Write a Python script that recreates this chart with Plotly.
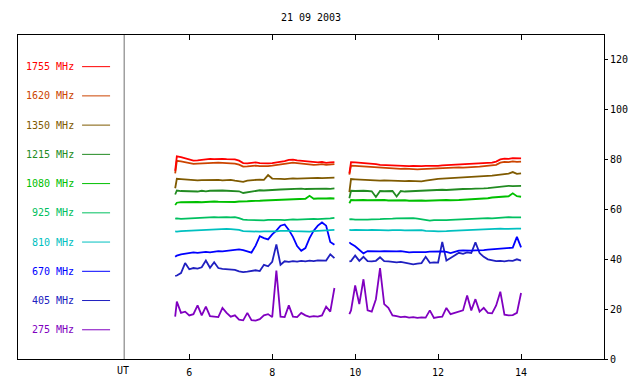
import plotly.graph_objects as go

# ---------------- data ----------------
T1 = [5.66] + [round(5.7 + 0.1 * i, 2) for i in range(39)]   # 5.7 .. 9.5 UT
T2 = [9.86] + [round(9.9 + 0.1 * i, 2) for i in range(42)]   # 9.9 .. 14.0 UT

FREQS = ["1755", "1620", "1350", "1215", "1080", "925", "810", "670", "405", "275"]
COLORS = ["#FF0000", "#CC4400", "#7F5A00", "#228B22", "#00C000",
          "#00C060", "#00C0C0", "#0000FF", "#2020C0", "#8000C0"]

F1755_A = [75.5,
           81.3, 81.0, 80.6, 80.2, 79.6, 79.7, 79.9, 80.1, 80.3, 80.2,
           80.4, 80.3, 80.2, 80.3, 80.1, 79.6, 78.6, 78.5, 78.7, 78.9,
           78.6, 78.4, 78.5, 78.6, 78.8, 79.0, 79.4, 79.9, 80.0, 79.7,
           79.5, 79.3, 79.0, 78.8, 78.9, 79.1, 78.7, 78.9, 79.0]
F1755_B = [74.5,
           79.0, 78.9, 78.8, 78.7, 78.6, 78.5, 78.2, 77.9, 77.8, 77.7,
           77.9, 77.7, 77.5, 77.6, 77.4, 77.5, 77.3, 77.4, 77.5, 77.4,
           77.6, 77.5, 77.7, 77.8, 77.9, 78.0, 78.1, 78.0, 78.2, 78.3,
           78.4, 78.5, 78.6, 78.7, 78.8, 79.2, 80.1, 80.4, 80.3, 80.6,
           80.4, 80.5]

F1620_A = [74.5,
           79.5, 79.3, 79.0, 78.6, 78.3, 78.4, 78.5, 78.6, 78.7, 78.6,
           78.8, 78.7, 78.6, 78.7, 78.4, 78.0, 77.2, 77.3, 77.5, 77.6,
           77.4, 77.3, 77.4, 77.6, 77.8, 78.0, 78.4, 78.7, 78.8, 78.6,
           78.4, 78.2, 78.0, 77.9, 78.0, 78.2, 77.9, 78.1, 78.2]
F1620_B = [74.0,
           77.6, 77.5, 77.4, 77.3, 77.2, 77.1, 76.9, 76.7, 76.6, 76.5,
           76.7, 76.5, 76.3, 76.4, 76.2, 76.3, 76.1, 76.2, 76.3, 76.2,
           76.4, 76.3, 76.5, 76.6, 76.7, 76.8, 76.9, 76.8, 77.0, 77.1,
           77.1, 77.2, 77.3, 77.4, 77.5, 77.9, 78.8, 79.1, 79.0, 79.3,
           79.1, 79.2]

F1350_A = [68.5,
           72.3, 72.2, 72.0, 71.8, 71.9, 71.7, 71.8, 71.9, 71.7, 71.8,
           71.9, 71.7, 71.8, 71.9, 71.6, 71.4, 71.1, 71.6, 71.8, 71.9,
           72.0, 71.9, 73.8, 72.4, 72.2, 72.3, 72.2, 72.4, 72.5, 72.4,
           72.5, 72.6, 72.5, 72.6, 72.7, 72.6, 72.7, 72.6, 72.8]
F1350_B = [67.0,
           72.2, 72.1, 72.0, 71.9, 71.8, 71.7, 71.8, 71.6, 71.7, 71.6,
           71.5, 71.6, 71.5, 71.4, 71.5, 71.4, 71.5, 71.3, 71.6, 71.9,
           72.1, 72.3, 72.4, 72.5, 72.6, 72.5, 72.7, 72.8, 72.7, 72.9,
           73.0, 73.1, 73.2, 73.4, 73.6, 73.8, 74.0, 74.2, 74.4, 75.0,
           74.3, 74.5]

F1215_A = [66.0,
           67.6, 67.4, 67.3, 67.5, 67.4, 67.2, 67.5, 67.3, 67.5, 67.6,
           67.4, 67.6, 67.5, 67.4, 67.6, 67.3, 66.6, 66.9, 67.3, 67.5,
           67.7, 67.6, 67.8, 67.7, 67.9, 68.0, 68.1, 68.3, 68.2, 68.3,
           68.4, 68.2, 68.3, 68.4, 68.2, 68.3, 68.4, 68.3, 68.5]
F1215_B = [64.5,
           67.5, 67.4, 67.6, 67.5, 67.4, 67.3, 65.0, 67.4, 67.3, 67.5,
           67.4, 65.2, 67.4, 67.2, 67.3, 67.4, 67.5, 67.4, 67.6, 67.7,
           67.8, 67.7, 67.9, 67.8, 68.0, 67.9, 68.1, 68.2, 68.1, 68.3,
           68.4, 68.3, 68.5, 68.6, 68.8, 69.0, 69.1, 69.3, 69.5, 69.4,
           69.6, 69.5]

F1080_A = [61.8,
           62.7, 62.9, 63.0, 62.8, 63.1, 63.0, 62.9, 63.1, 63.0, 63.2,
           63.1, 63.0, 63.2, 63.1, 63.0, 63.2, 63.1, 63.3, 63.4, 63.3,
           63.5, 63.6, 63.7, 63.8, 63.9, 64.0, 64.1, 64.0, 64.2, 64.1,
           64.2, 64.3, 65.5, 64.3, 64.4, 64.3, 64.4, 64.5, 64.4]
F1080_B = [62.5,
           63.8, 63.7, 63.9, 63.8, 63.7, 63.8, 63.6, 63.7, 63.8, 63.6,
           63.7, 63.5, 63.6, 63.7, 63.5, 63.6, 63.7, 63.6, 63.5, 63.6,
           63.7, 63.6, 63.7, 63.8, 63.7, 63.9, 63.8, 63.9, 64.0, 64.1,
           64.2, 64.1, 64.3, 64.5, 64.8, 65.0, 65.2, 65.4, 65.3, 66.5,
           65.3, 65.1]

F925_A = [56.3,
          56.4, 56.2, 56.3, 56.5, 56.4, 56.6, 56.5, 56.7, 56.8, 56.9,
          56.8, 57.0, 56.9, 56.8, 56.9, 56.5, 55.9, 55.8, 55.7, 55.8,
          55.7, 55.6, 55.8, 55.7, 55.9, 55.8, 55.7, 55.9, 56.0, 55.9,
          56.0, 56.1, 56.0, 56.2, 56.1, 56.3, 56.2, 56.4, 56.6]
F925_B = [56.0,
          56.1, 55.9, 56.0, 55.8, 55.9, 56.0, 55.9, 56.1, 56.2, 56.1,
          56.3, 56.4, 56.5, 56.3, 56.4, 56.5, 56.3, 56.0, 55.6, 55.5,
          55.7, 55.6, 55.8, 55.7, 55.8, 55.9, 55.8, 56.0, 56.1, 56.2,
          56.3, 56.2, 56.4, 56.5, 56.4, 56.6, 56.7, 56.8, 56.9, 56.8,
          56.7, 56.8]

F810_A = [51.2,
          51.1, 51.3, 51.4, 51.5, 51.6, 51.7, 51.8, 51.9, 52.0, 52.1,
          52.0, 52.1, 52.2, 52.1, 52.0, 51.8, 51.3, 51.2, 51.3, 51.2,
          51.1, 51.2, 51.1, 51.3, 51.2, 51.4, 51.5, 51.4, 51.3, 51.2,
          51.3, 51.2, 51.1, 51.3, 51.4, 51.5, 51.6, 51.7, 51.8]
F810_B = [51.8,
          51.7, 51.8, 51.7, 51.6, 51.7, 51.8, 51.7, 51.6, 51.7, 51.6,
          51.7, 51.8, 51.7, 51.6, 51.7, 51.8, 51.9, 51.7, 51.4, 51.2,
          51.3, 51.2, 51.4, 51.3, 51.4, 51.5, 51.4, 51.6, 51.5, 51.6,
          51.7, 51.8, 51.9, 52.0, 52.1, 52.2, 52.3, 52.2, 52.3, 52.4,
          52.3, 52.3]

F670_A = [41.0,
          41.5, 42.0, 42.3, 42.6, 42.8, 42.6, 42.9, 43.0, 42.8, 43.1,
          43.3, 43.2, 43.4, 43.6, 43.8, 44.0, 43.7, 43.2, 42.7, 45.5,
          49.3, 48.5, 48.0, 50.0, 51.5, 53.5, 54.0, 51.8, 49.0, 45.3,
          43.4, 44.5, 48.5, 51.5, 53.5, 54.8, 53.5, 47.0, 45.8]
F670_B = [46.8,
          46.2, 45.2, 43.6, 42.4, 43.3, 43.2, 43.3, 43.2, 43.3, 43.2,
          43.1, 43.2, 43.3, 43.0, 42.8, 42.9, 42.8, 43.0, 42.9, 43.1,
          43.2, 43.3, 43.2, 43.0, 42.5, 43.0, 43.5, 43.6, 43.4, 43.5,
          43.6, 43.5, 43.7, 43.9, 44.0, 44.2, 44.3, 44.5, 44.6, 44.7,
          49.0, 44.8]

F405_A = [33.3,
          33.5, 34.5, 38.5, 36.0, 36.5, 36.3, 36.8, 39.5, 36.6, 38.8,
          36.5, 36.2, 36.0, 36.1, 35.8, 35.2, 34.9, 35.1, 35.4, 35.6,
          35.3, 37.8, 37.2, 39.0, 46.0, 37.8, 39.2, 39.0, 39.3, 39.1,
          39.4, 39.2, 39.5, 39.3, 39.6, 39.4, 39.5, 42.0, 40.5]
F405_B = [39.2,
          39.3, 41.5, 39.4, 41.0, 39.3, 39.2, 39.4, 40.8, 39.3, 39.2,
          39.0, 38.8, 39.0, 38.6, 38.2, 38.0, 38.3, 38.5, 41.0, 38.6,
          38.8, 38.7, 47.0, 39.5, 40.5, 41.5, 42.6, 42.2, 42.8, 42.5,
          46.8, 42.5, 41.0, 40.0, 39.5, 39.3, 39.4, 39.2, 39.5, 39.4,
          40.0, 39.5]

F275_A = [17.0,
          23.0, 18.5, 19.0, 17.5, 18.0, 21.5, 17.5, 21.0, 17.2, 17.0,
          16.8, 20.5, 18.5, 17.0, 17.5, 15.8, 15.5, 18.5, 15.6, 15.4,
          16.0, 17.5, 18.0, 16.8, 35.5, 17.0, 16.8, 21.5, 17.0, 16.8,
          18.5, 17.5, 16.9, 17.2, 17.0, 17.5, 21.0, 19.0, 28.5]
F275_B = [18.0,
          19.5, 29.5, 22.0, 32.0, 19.5, 19.0, 24.0, 36.5, 22.0, 20.5,
          17.5, 17.2, 16.8, 17.0, 16.6, 16.8, 16.5, 16.7, 16.6, 19.5,
          16.5, 16.8, 17.0, 20.5, 18.0, 18.5, 19.0, 19.5, 25.5, 19.5,
          24.0, 19.0, 20.5, 18.5, 18.3, 21.5, 27.0, 17.8, 17.5, 17.6,
          18.5, 26.5]

SERIES = {
    "1755": (F1755_A, F1755_B), "1620": (F1620_A, F1620_B),
    "1350": (F1350_A, F1350_B), "1215": (F1215_A, F1215_B),
    "1080": (F1080_A, F1080_B), "925": (F925_A, F925_B),
    "810": (F810_A, F810_B), "670": (F670_A, F670_B),
    "405": (F405_A, F405_B), "275": (F275_A, F275_B),
}

TITLE = "21 09 2003"
XTICKS = [6, 8, 10, 12, 14]
YTICKS = [0, 20, 40, 60, 80, 100, 120]

# ---------------- figure ----------------
FONT = "DejaVu Sans Mono"
SEP_X = 4.43          # UT separator position
fig = go.Figure()

for f, c in zip(reversed(FREQS), reversed(COLORS)):
    a, b = SERIES[f]
    assert len(a) == len(T1) and len(b) == len(T2), f
    fig.add_trace(go.Scatter(
        x=T1 + [None] + T2, y=a + [None] + b, mode="lines",
        line=dict(color=c, width=1.8), connectgaps=False,
        hoverinfo="skip", showlegend=False))

# legend built from text + line shapes
LEG_TOP, LEG_STEP = 117.3, 11.73
for i, (f, c) in enumerate(zip(FREQS, COLORS)):
    yv = LEG_TOP - i * LEG_STEP
    fig.add_annotation(x=3.26, y=yv, xref="x", yref="y", text=f"{f} MHz",
                       showarrow=False, xanchor="right", yanchor="middle",
                       font=dict(family=FONT, size=10, color=c))
    fig.add_shape(type="line", xref="x", yref="y", x0=3.415, x1=4.09,
                  y0=yv, y1=yv, line=dict(color=c, width=1))

fig.add_shape(type="line", xref="x", yref="paper", x0=SEP_X, x1=SEP_X,
              y0=0, y1=1, line=dict(color="#707070", width=1))
fig.add_annotation(x=SEP_X - 0.04, y=0, xref="x", yref="paper", text="UT",
                   showarrow=False, xanchor="center", yanchor="top", yshift=-4,
                   font=dict(family=FONT, size=10, color="black"))

fig.update_layout(
    width=640, height=384,
    margin=dict(l=18, r=36, t=35, b=25),
    paper_bgcolor="white", plot_bgcolor="white",
    title=dict(text=TITLE, x=0.5, xref="paper", xanchor="center",
               y=1 - 17 / 384, yref="container", yanchor="middle",
               font=dict(family=FONT, size=10, color="black")),
    font=dict(family=FONT, size=10, color="black"),
    xaxis=dict(range=[1.87, 16.0], tickvals=XTICKS, ticktext=[str(v) for v in XTICKS],
               ticks="inside", ticklen=5, tickcolor="black", showgrid=False,
               zeroline=False, showline=True, linecolor="black", linewidth=1,
               mirror="ticks", ticklabelstandoff=4, automargin=False),
    yaxis=dict(range=[0, 130], tickvals=YTICKS, side="right",
               ticks="outside", ticklen=3, tickcolor="black", showgrid=False,
               zeroline=False, showline=True, linecolor="black", linewidth=1,
               mirror=True, automargin=False),
)

fig.write_html("out.html", config={"displayModeBar": False, "staticPlot": True},
               post_script="document.body.style.margin='0';document.body.style.overflow='hidden';")
